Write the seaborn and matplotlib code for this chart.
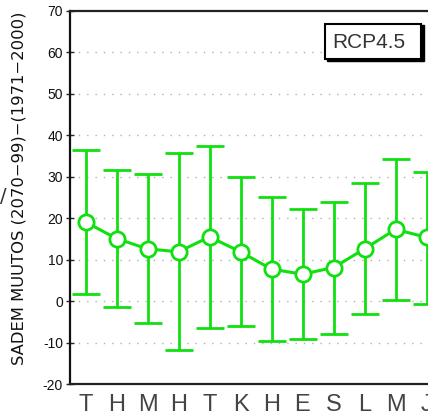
import matplotlib
matplotlib.use("Agg")
import matplotlib.pyplot as plt
import seaborn as sns
import numpy as np
import pandas as pd
from matplotlib.patches import Rectangle

months = ["T", "H", "M", "H", "T", "K", "H", "E", "S", "L", "M", "J"]
mean_change = [19.1, 15.1, 12.6, 11.9, 15.5, 11.9, 7.7, 6.5, 8.1, 12.6, 17.3, 15.4]
upper = [36.4, 31.6, 30.6, 35.7, 37.4, 29.9, 25.0, 22.2, 24.0, 28.4, 34.2, 31.2]
lower = [1.7, -1.4, -5.4, -11.8, -6.4, -5.9, -9.6, -9.1, -7.9, -3.1, 0.3, -0.7]
yticks = [-20, -10, 0, 10, 20, 30, 40, 50, 60, 70]

sns.set_style("white")
plt.rcParams['font.family'] = ['Liberation Sans', 'DejaVu Sans']

W, H = 428, 419
fig = plt.figure(figsize=(W / 100, H / 100), dpi=100)
ax = fig.add_axes([70 / W, (H - 384) / H, 372 / W, 373 / H])

x = np.arange(1, len(months) + 1)
df = pd.DataFrame({"x": x, "y": mean_change})
green = "#10E010"

m = np.array(mean_change)
yerr = np.vstack([m - np.array(lower), np.array(upper) - m])
ax.errorbar(x, m, yerr=yerr, fmt="none", ecolor=green, elinewidth=2.0,
            capsize=10, capthick=2.0, zorder=2)
sns.lineplot(data=df, x="x", y="y", ax=ax, color=green, linewidth=2.2,
             marker="o", markersize=11, markerfacecolor="white",
             markeredgecolor=green, markeredgewidth=2.0, zorder=3)

ax.set_xlim(0.5, 12.5)
ax.set_ylim(-20, 70)
ax.set_yticks(yticks)
ax.set_yticklabels([str(v) for v in yticks], fontsize=10, color="#111")
ax.set_xticks(x)
ax.set_xticklabels(months, fontsize=17, color="#444")
ax.tick_params(axis="x", length=0, pad=7)
ax.tick_params(axis="y", length=6, width=1, direction="inout", pad=2, left=True)
ax.set_xlabel("")
ax.set_ylabel("")
fig.text(19 / W, (H - 188) / H, "SADEM MUUTOS (2070\u221299)\u2212(1971\u22122000)",
         fontsize=11.8, color="#111", rotation=90, va="center", ha="center",
         family="DejaVu Sans")

for v in yticks[1:-1]:
    ax.axhline(v, color="#b0b0b0", linewidth=1, linestyle=(0, (1, 5)), zorder=0)

ax.spines["left"].set_linewidth(1.6)
ax.spines["left"].set_color("#111")
for s in ["top", "bottom"]:
    ax.spines[s].set_linestyle((0, (3, 1)))
    ax.spines[s].set_linewidth(1.6)
    ax.spines[s].set_color("#222")
ax.spines["right"].set_visible(False)

# legend-like box
fig.patches.append(Rectangle((327 / W, (H - 61) / H), 97 / W, 36 / H,
                             transform=fig.transFigure, facecolor="black",
                             edgecolor="black", zorder=5))
fig.patches.append(Rectangle((325 / W, (H - 59) / H), 96 / W, 35 / H,
                             transform=fig.transFigure, facecolor="white",
                             edgecolor="black", linewidth=1.5, zorder=6))
fig.text(332 / W, (H - 42) / H, "RCP4.5", fontsize=15, color="#333",
         va="center", ha="left", zorder=7)

fig.text(3 / W, (H - 196) / H, "/", fontsize=14, color="#333",
         va="center", ha="center", family="DejaVu Sans")

fig.savefig("out.png", dpi=100)
